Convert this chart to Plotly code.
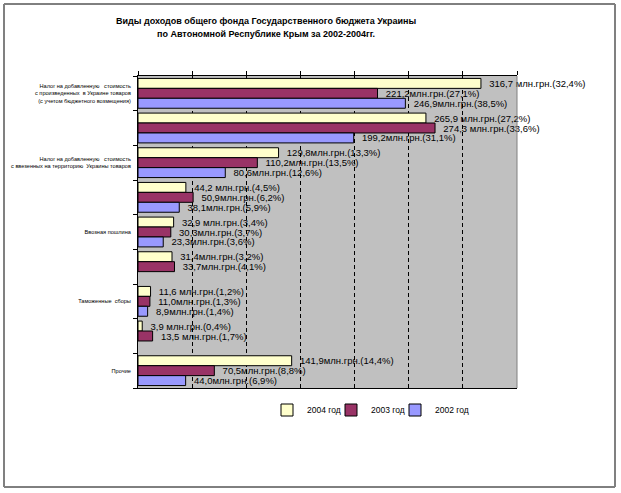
import plotly.graph_objects as go

# --- data ---
categories = [
    "НДС с произведенных в Украине товаров",
    "Категория 2",
    "НДС с ввезенных товаров",
    "Категория 4",
    "Ввозная пошлина",
    "Категория 6",
    "Таможенные сборы",
    "Категория 8",
    "Прочие",
]
tick_labels = [
    "Налог на добавленную   стоимость<br>с произведенных  в Украине товаров<br>(с учетом бюджетного возмещения)",
    "",
    "Налог на добавленную   стоимость<br>с ввезенных на территорию  Украины товаров",
    "",
    "Ввозная пошлина",
    "",
    "Таможенные  сборы",
    "",
    "Прочие",
]
years = ["2004 год", "2003 год", "2002 год"]
values_2004 = [316.7, 265.9, 129.8, 44.2, 32.9, 31.4, 11.6, 3.9, 141.9]
values_2003 = [221.2, 274.3, 110.2, 50.9, 30.3, 33.7, 11.0, 13.5, 70.5]
values_2002 = [246.9, 199.2, 80.6, 38.1, 23.3, None, 8.9, None, 44.0]
labels_2004 = ["316,7 млн.грн.(32,4%)", "265,9 млн.грн.(27,2%)", "129,8млн.грн.(13,3%)",
               "44,2 млн.грн.(4,5%)", "32,9 млн.грн.(3,4%)", "31,4млн.грн.(3,2%)",
               "11,6 млн.грн.(1,2%)", "3,9 млн.грн.(0,4%)", "141,9млн.грн.(14,4%)"]
labels_2003 = ["221,2млн.грн.(27,1%)", "274,3 млн.грн.(33,6%)", "110,2млн.грн.(13,5%)",
               "50,9млн.грн.(6,2%)", "30,3млн.грн.(3,7%)", "33,7млн.грн.(4,1%)",
               "11,0млн.грн.(1,3%)", "13,5 млн.грн.(1,7%)", "70,5млн.грн.(8,8%)"]
labels_2002 = ["246,9млн.грн.(38,5%)", "199,2млн.грн.(31,1%)", "80,6млн.грн.(12,6%)",
               "38,1млн.грн.(5,9%)", "23,3млн.грн.(3,6%)", "",
               "8,9млн.грн.(1,4%)", "", "44,0млн.грн.(6,9%)"]
colors = ["#FFFFCC", "#993366", "#9999FF"]

FONT = "Liberation Sans, Arial, sans-serif"

W, H = 621, 493
L, R, T, B = 138, 517, 76, 388
pw, ph = R - L, B - T


def px(x):
    return (x - L) / pw


def py(y):
    return (B - y) / ph


legend_ids = ["legend", "legend2", "legend3"]
legend_sym_x = [285, 349, 413]

fig = go.Figure()
for name, vals, labs, col, lid in zip(years, [values_2004, values_2003, values_2002],
                                      [labels_2004, labels_2003, labels_2002], colors,
                                      legend_ids):
    fig.add_trace(go.Bar(
        y=categories, x=vals, name=name, orientation="h",
        marker=dict(color=col, line=dict(color="#000000", width=1)),
        text=["\u00a0\u00a0" + t if t else "" for t in labs],
        textposition="outside", cliponaxis=False,
        constraintext="none",
        textfont=dict(family=FONT, size=9.5, color="#000000"),
        legend=lid, hoverinfo="skip",
    ))

legend_common = dict(
    orientation="h", xanchor="left", yanchor="middle",
    font=dict(family=FONT, size=8.5), bgcolor="rgba(0,0,0,0)",
    itemwidth=30,
)
legends = {}
for lid, sx in zip(legend_ids, legend_sym_x):
    legends[lid] = dict(legend_common, x=px(sx - 18), y=py(410))

fig.update_layout(
    width=W, height=H,
    margin=dict(l=L, r=W - R, t=T, b=H - B, pad=0),
    paper_bgcolor="#FFFFFF",
    plot_bgcolor="#C0C0C0",
    barmode="group",
    bargap=0.14,
    bargroupgap=0,
    font=dict(family=FONT, color="#000000"),
    showlegend=True,
    annotations=[
        dict(text="<b>Виды доходов общего фонда Государственного бюджета Украины</b>",
             xref="paper", yref="paper", x=px(266), y=py(21), showarrow=False,
             xanchor="center", yanchor="middle",
             font=dict(family=FONT, size=9)),
        dict(text="<b>по Автономной Республике Крым за 2002-2004гг.</b>",
             xref="paper", yref="paper", x=px(266), y=py(34), showarrow=False,
             xanchor="center", yanchor="middle",
             font=dict(family=FONT, size=9)),
    ],
    shapes=[
        dict(type="line", xref="paper", yref="paper", x0=px(4), x1=px(615), y0=py(4), y1=py(4),
             line=dict(color="#000000", width=1)),
        dict(type="line", xref="paper", yref="paper", x0=px(4), x1=px(615), y0=py(487), y1=py(487),
             line=dict(color="#000000", width=1)),
        dict(type="line", xref="paper", yref="paper", x0=px(4), x1=px(4), y0=py(4), y1=py(487),
             line=dict(color="#808080", width=2)),
        dict(type="line", xref="paper", yref="paper", x0=px(615), x1=px(615), y0=py(4), y1=py(487),
             line=dict(color="#808080", width=2)),
        dict(type="line", xref="paper", yref="paper", x0=1, x1=1, y0=0, y1=1,
             line=dict(color="#808080", width=1)),
    ],
    **legends,
)

fig.update_xaxes(
    range=[0, 350], dtick=50, tick0=0, side="top",
    showticklabels=False, ticks="outside", ticklen=4, tickcolor="#000000",
    showgrid=True, gridcolor="#000000", griddash="4px,3px", gridwidth=1,
    showline=True, linecolor="#000000", linewidth=1, mirror=True,
    zeroline=False, fixedrange=True,
)
fig.update_yaxes(
    autorange="reversed", type="category",
    tickmode="array", tickvals=categories, ticktext=tick_labels,
    tickson="boundaries", ticks="outside", ticklen=4, tickcolor="#000000",
    tickfont=dict(family=FONT, size=5.6), ticklabelstandoff=5,
    showline=True, linecolor="#000000", linewidth=1,
    showgrid=False, fixedrange=True, automargin=False,
)

fig.write_html("out.html",
               config={"displayModeBar": False, "staticPlot": True},
               post_script="document.body.style.margin='0';document.body.style.padding='0';")
